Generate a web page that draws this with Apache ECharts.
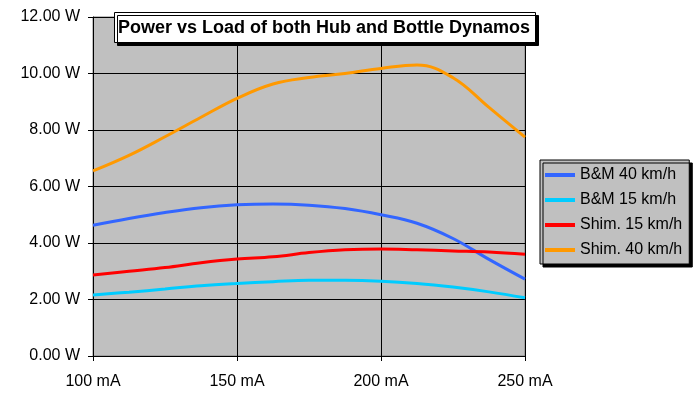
<!DOCTYPE html>
<html><head><meta charset="utf-8">
<script src="https://cdn.jsdelivr.net/npm/echarts@6/dist/echarts.min.js"></script>
<style>html,body{margin:0;padding:0;background:#fff}#c{width:698px;height:396px}</style>
</head><body><div id="c"></div>
<script>
const loads = [100,112.5,125,137.5,150,162.5,175,187.5,200,212.5,225,237.5,250];
const bm40 = [4.63,4.87,5.08,5.25,5.35,5.38,5.34,5.22,5.0,4.7,4.16,3.42,2.72];
const bm15 = [2.16,2.26,2.37,2.49,2.57,2.63,2.68,2.68,2.65,2.57,2.44,2.27,2.06];
const shim15 = [2.87,3.0,3.13,3.3,3.43,3.51,3.66,3.76,3.79,3.76,3.72,3.68,3.6];
const shim40 = [6.55,7.1,7.76,8.45,9.12,9.63,9.86,10.0,10.18,10.3,9.85,8.8,7.75];
const names = ['B&M 40 km/h','B&M 15 km/h','Shim. 15 km/h','Shim. 40 km/h'];
const colors = ['#3366ff','#00ccff','#ff0000','#ff9900'];
const values = [bm40,bm15,shim15,shim40];
const font = 'Arial, "Liberation Sans", sans-serif';
const chart = echarts.init(document.getElementById('c'));
chart.setOption({
  backgroundColor:'#ffffff',
  animation:false,
  title:{
    text:'Power vs Load of both Hub and Bottle Dynamos',
    left:114, top:12,
    padding:[7,6,6,4],
    backgroundColor:'#ffffff',
    borderColor:'#000',borderWidth:1,
    shadowColor:'#000',shadowBlur:0,shadowOffsetX:3,shadowOffsetY:3,
    textStyle:{fontFamily:font,fontWeight:'bold',fontSize:18,color:'#000'}
  },
  legend:{
    orient:'vertical',
    left:540, top:160,
    padding:[7,7,6,5],
    backgroundColor:'#c0c0c0',
    borderColor:'#000',borderWidth:1,
    shadowColor:'#000',shadowBlur:0,shadowOffsetX:3,shadowOffsetY:3,
    itemWidth:30,itemHeight:4,itemGap:9,
    icon:'rect',
    data:names,
    textStyle:{fontFamily:font,fontSize:16,color:'#000'}
  },
  grid:{left:93,top:17,right:173,bottom:40,show:true,backgroundColor:'#c0c0c0',borderColor:'#808080',borderWidth:1},
  xAxis:{
    type:'value',min:100,max:250,interval:50,
    axisLine:{lineStyle:{color:'#000',width:1}},
    axisTick:{show:true,length:5,lineStyle:{color:'#000'}},
    axisLabel:{formatter:'{value} mA',fontFamily:font,fontSize:16,color:'#000',margin:18},
    splitLine:{show:true,lineStyle:{color:'#000',width:1}}
  },
  yAxis:{
    type:'value',min:0,max:12,interval:2,
    axisLine:{show:true,lineStyle:{color:'#000',width:1}},
    axisTick:{show:true,length:5,lineStyle:{color:'#000'}},
    axisLabel:{formatter:v=>v.toFixed(2)+' W',fontFamily:font,fontSize:16,color:'#000',margin:13},
    splitLine:{show:true,lineStyle:{color:'#000',width:1}}
  },
  series: names.map((n,i)=>({
    name:n,type:'line',smooth:0.4,symbol:'none',
    data: loads.map((x,j)=>[x,values[i][j]]),
    lineStyle:{color:colors[i],width:3},
    itemStyle:{color:colors[i]}
  }))
});
</script></body></html>
